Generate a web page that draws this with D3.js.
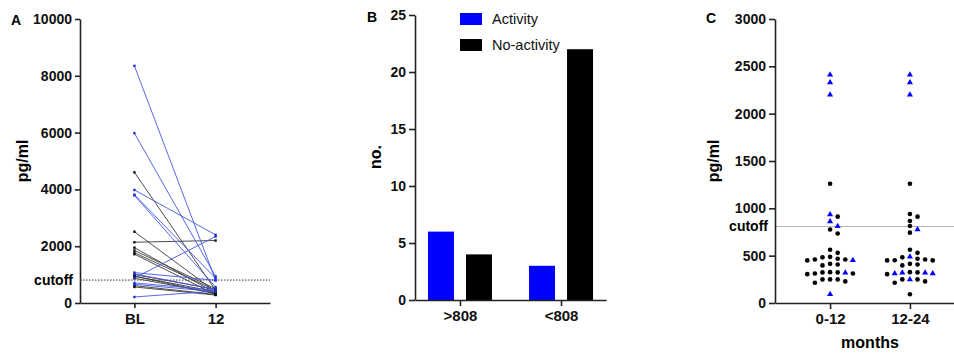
<!DOCTYPE html>
<html>
<head>
<meta charset="utf-8">
<script src="https://cdn.jsdelivr.net/npm/d3@7"></script>
<style>
  body { margin: 0; background: #fff; }
  text { font-family: "Liberation Sans", Arial, sans-serif; }
</style>
</head>
<body>
<script>
// ---- panel A: paired values, baseline vs 12 months
var aBaseline = [8350, 5980, 3980, 3815, 3790, 1070, 1025, 880, 707, 657, 212,
                 4600, 2510, 2140, 1950, 1850, 1770, 1720, 1000, 940, 870, 611, 565, 950];
var aMonth12  = [800, 940, 2400, 870, 560, 800, 480, 2340, 450, 400, 420,
                 450, 400, 2200, 350, 500, 450, 300, 480, 400, 350, 300, 280, 320];
var aActivity = [1, 1, 1, 1, 1, 1, 1, 1, 1, 1, 1,
                 0, 0, 0, 0, 0, 0, 0, 0, 0, 0, 0, 0, 0];
var aTimes = ["BL", "12"];
var aTicks = [0, 2000, 4000, 6000, 8000, 10000];
var cutoff = 808;

// ---- panel B: counts
var bCategories = [">808", "<808"];
var bActivity = [6, 3];
var bNoActivity = [4, 22];
var bSeries = ["Activity", "No-activity"];
var bTicks = [0, 5, 10, 15, 20, 25];

// ---- panel C: scatter per period (1 = activity / triangle, 0 = no activity / circle)
var cPeriods = ["0-12", "12-24"];
var c012Values = [2410, 2330, 2200, 934, 860, 811, 452, 320, 92,
                  1260, 912, 776, 734, 562, 530, 488, 482, 467, 460, 460, 450, 414, 407, 397,
                  326, 323, 323, 312, 312, 305, 249, 249, 249, 228, 214];
var c012Activity = [1, 1, 1, 1, 1, 1, 1, 1, 1,
                    0, 0, 0, 0, 0, 0, 0, 0, 0, 0, 0, 0, 0, 0, 0,
                    0, 0, 0, 0, 0, 0, 0, 0, 0, 0, 0];
var c1224Values = [2410, 2330, 2200, 776, 488, 320, 320, 312, 312, 249,
                   1260, 940, 912, 866, 813, 743, 562, 530, 482, 467, 460, 452, 450, 450, 414,
                   407, 397, 326, 323, 305, 249, 249, 228, 214, 92];
var c1224Activity = [1, 1, 1, 1, 1, 1, 1, 1, 1, 1,
                     0, 0, 0, 0, 0, 0, 0, 0, 0, 0, 0, 0, 0, 0, 0,
                     0, 0, 0, 0, 0, 0, 0, 0, 0, 0];
var cTicks = [0, 500, 1000, 1500, 2000, 2500, 3000];

var width = 954, height = 354;
var axisColor = "#222";
var blue = "#0000ff";

var svg = d3.select("body").append("svg")
  .attr("width", width)
  .attr("height", height)
  .style("background", "#fff");

// style an axis group like the Prism output
function styleAxis(g, size) {
  g.selectAll("path, line").attr("stroke", axisColor).attr("stroke-width", 1.6);
  g.selectAll("text")
    .attr("fill", "#111")
    .style("font-size", (size || 14) + "px")
    .style("font-weight", "bold")
    .style("font-family", "'Liberation Sans', Arial, sans-serif");
}

function panelLetter(x, y, s) {
  svg.append("text").attr("x", x).attr("y", y)
    .style("font-size", "14px").style("font-weight", "bold").text(s);
}

function yLabel(x, y, s) {
  svg.append("text")
    .attr("transform", "translate(" + x + "," + y + ") rotate(-90)")
    .attr("text-anchor", "middle")
    .style("font-size", "16px").style("font-weight", "bold")
    .text(s);
}

/* ================= A ================= */
var yA = d3.scaleLinear().domain([0, 10000]).range([303, 19]);
var xA = d3.scalePoint().domain(aTimes).range([80, 270]).padding(0.67);

var gA = svg.append("g");

gA.append("line")
  .attr("x1", 80).attr("x2", 270)
  .attr("y1", yA(cutoff)).attr("y2", yA(cutoff))
  .attr("stroke", "#333").attr("stroke-width", 1)
  .attr("stroke-dasharray", "1.5,1.5");

var pairsA = aBaseline.map(function(v, i) {
  return { bl: v, m12: aMonth12[i], act: aActivity[i] };
});
// black lines first, blue on top
pairsA.sort(function(a, b) { return a.act - b.act; });

gA.selectAll("line.pair")
  .data(pairsA)
  .enter().append("line")
  .attr("class", "pair")
  .attr("x1", xA("BL")).attr("x2", xA("12"))
  .attr("y1", function(d) { return yA(d.bl); })
  .attr("y2", function(d) { return yA(d.m12); })
  .attr("stroke", function(d) { return d.act ? "#4457e0" : "#3a3a3a"; })
  .attr("stroke-width", 0.9);

pairsA.forEach(function(d) {
  [["BL", d.bl], ["12", d.m12]].forEach(function(p) {
    gA.append("rect")
      .attr("x", xA(p[0]) - 1.2).attr("y", yA(p[1]) - 1.2)
      .attr("width", 2.4).attr("height", 2.4)
      .attr("fill", d.act ? "#2233cc" : "#111");
  });
});

gA.append("g").attr("transform", "translate(80,0)")
  .call(d3.axisLeft(yA).tickValues(aTicks).tickSize(5).tickSizeOuter(0).tickFormat(d3.format("d")))
  .call(styleAxis);
gA.append("text")
  .attr("x", 73).attr("y", yA(cutoff)).attr("dy", "0.35em")
  .attr("text-anchor", "end")
  .style("font-size", "14px").style("font-weight", "bold").text("cutoff");
gA.append("g").attr("transform", "translate(0,303)")
  .call(d3.axisBottom(xA).tickSize(5).tickSizeOuter(0).tickPadding(5))
  .call(styleAxis, 15);

panelLetter(11, 25, "A");
yLabel(28, 161, "pg/ml");

/* ================= B ================= */
var yB = d3.scaleLinear().domain([0, 25]).range([300, 15]);
var xB = d3.scalePoint().domain(bCategories).range([415, 606]).padding(0.445);
var xSub = d3.scaleBand().domain(bSeries).range([-32, 32]).paddingInner(0.316).paddingOuter(0);
var colorB = d3.scaleOrdinal().domain(bSeries).range([blue, "#000"]);

var gB = svg.append("g");
var barsB = [];
bCategories.forEach(function(c, i) {
  barsB.push({ cat: c, series: "Activity", value: bActivity[i] });
  barsB.push({ cat: c, series: "No-activity", value: bNoActivity[i] });
});

gB.selectAll("rect.bar")
  .data(barsB)
  .enter().append("rect")
  .attr("class", "bar")
  .attr("x", function(d) { return xB(d.cat) + xSub(d.series); })
  .attr("width", xSub.bandwidth())
  .attr("y", function(d) { return yB(d.value); })
  .attr("height", function(d) { return yB(0) - yB(d.value); })
  .attr("fill", function(d) { return colorB(d.series); });

gB.append("g").attr("transform", "translate(415,0)")
  .call(d3.axisLeft(yB).tickValues(bTicks).tickSize(6).tickSizeOuter(0))
  .call(styleAxis);
gB.append("g").attr("transform", "translate(0,300)")
  .call(d3.axisBottom(xB).tickSize(6).tickSizeOuter(0).tickPadding(4))
  .call(styleAxis, 15);

var legend = gB.selectAll("g.leg")
  .data(bSeries)
  .enter().append("g")
  .attr("class", "leg")
  .attr("transform", function(d, i) { return "translate(460," + (13 + i * 26) + ")"; });
legend.append("rect").attr("width", 22).attr("height", 12)
  .attr("fill", function(d) { return colorB(d); });
legend.append("text").attr("x", 32).attr("y", 6).attr("dy", "0.35em")
  .style("font-size", "14.5px").attr("fill", "#111")
  .text(function(d) { return d; });

panelLetter(367, 22, "B");
yLabel(381, 157, "no.");

/* ================= C ================= */
var yC = d3.scaleLinear().domain([0, 3000]).range([303, 19]);
var xC = d3.scalePoint().domain(cPeriods).range([775, 965]).padding(0.69);

var gC = svg.append("g");

gC.append("line")
  .attr("x1", 775).attr("x2", width)
  .attr("y1", yC(cutoff)).attr("y2", yC(cutoff))
  .attr("stroke", "#b5b5b5").attr("stroke-width", 1);

// greedy column scatter: each point takes the closest free slot around the centre
function swarm(values, flags, period) {
  var slotW = 7.6, minDy = 5;
  var pts = values.map(function(v, i) { return { v: v, act: flags[i], y: yC(v) }; });
  pts.sort(function(a, b) { return b.v - a.v; });
  var placed = [];
  var order = [0, 1, -1, 2, -2, 3, -3, 4, -4, 5, -5];
  pts.forEach(function(p) {
    for (var k = 0; k < order.length; k++) {
      var s = order[k];
      var clash = placed.some(function(q) { return q.slot === s && Math.abs(q.y - p.y) < minDy; });
      if (!clash) { p.slot = s; break; }
    }
    p.x = xC(period) + p.slot * slotW;
    placed.push(p);
  });
  return pts;
}

var ptsC = swarm(c012Values, c012Activity, "0-12").concat(swarm(c1224Values, c1224Activity, "12-24"));

gC.selectAll("path.pt")
  .data(ptsC)
  .enter().append("path")
  .attr("class", "pt")
  .attr("transform", function(d) { return "translate(" + d.x + "," + d.y + ")"; })
  .attr("d", function(d) {
    return d.act ? d3.symbol(d3.symbolTriangle, 16)() : d3.symbol(d3.symbolCircle, 17)();
  })
  .attr("fill", function(d) { return d.act ? blue : "#000"; });

gC.append("g").attr("transform", "translate(775,0)")
  .call(d3.axisLeft(yC).tickValues(cTicks).tickSize(6).tickSizeOuter(0).tickFormat(d3.format("d")))
  .call(styleAxis);
gC.append("text")
  .attr("x", 768).attr("y", yC(cutoff)).attr("dy", "0.35em")
  .attr("text-anchor", "end")
  .style("font-size", "14px").style("font-weight", "bold").text("cutoff");
gC.append("g").attr("transform", "translate(0,303)")
  .call(d3.axisBottom(xC).tickSize(6).tickSizeOuter(0).tickPadding(4))
  .call(styleAxis, 15);

gC.append("text")
  .attr("x", 870).attr("y", 348)
  .attr("text-anchor", "middle")
  .style("font-size", "16px").style("font-weight", "bold")
  .text("months");

panelLetter(706, 23, "C");
yLabel(719, 161, "pg/ml");
</script>
</body>
</html>
